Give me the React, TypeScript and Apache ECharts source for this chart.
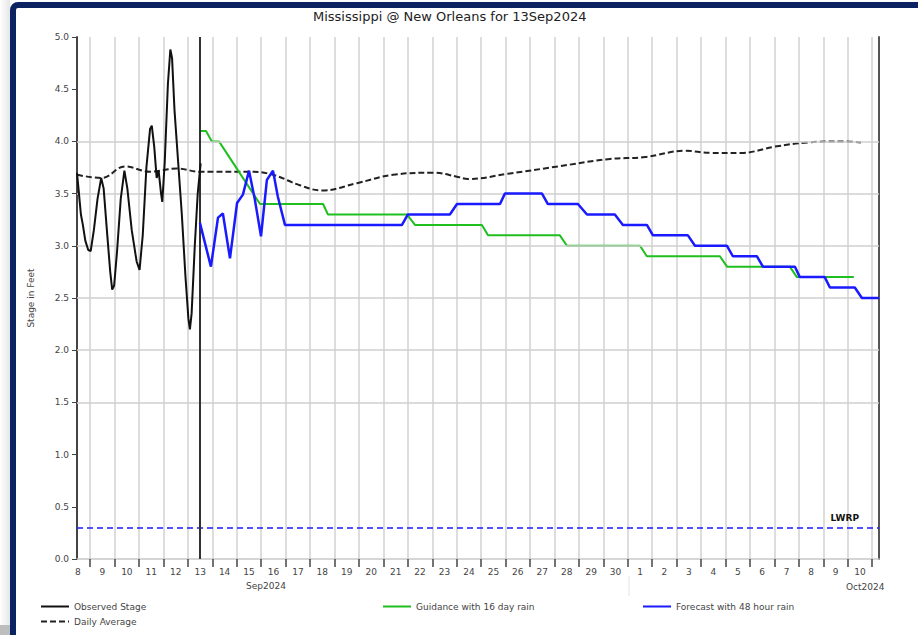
import React, { useEffect, useRef } from "react";
import * as echarts from "echarts";

const FONT = "DejaVu Sans";

// x is measured in days from 1 Sep 2024 00:00 (1 Oct = 31)
const xStart = 8.46;
const xEnd = 41.28;
const nowTime = 13.47;

const dayBoundaries = [9, 10, 11, 12, 13, 14, 15, 16, 17, 18, 19, 20, 21, 22, 23, 24, 25, 26, 27, 28, 29, 30, 31, 32, 33, 34, 35, 36, 37, 38, 39, 40, 41];
const dayLabelPositions = [8.5, 9.5, 10.5, 11.5, 12.5, 13.5, 14.5, 15.5, 16.5, 17.5, 18.5, 19.5, 20.5, 21.5, 22.5, 23.5, 24.5, 25.5, 26.5, 27.5, 28.5, 29.5, 30.5, 31.5, 32.5, 33.5, 34.5, 35.5, 36.5, 37.5, 38.5, 39.5, 40.5];
const dayLabels = ["8", "9", "10", "11", "12", "13", "14", "15", "16", "17", "18", "19", "20", "21", "22", "23", "24", "25", "26", "27", "28", "29", "30", "1", "2", "3", "4", "5", "6", "7", "8", "9", "10"];

const gridStages = [1.5, 2.0, 2.5, 3.0, 3.5, 4.0];
const lwrpStage = 0.3;

const observedDays = [8.46, 8.52, 8.62, 8.7, 8.8, 8.92, 9.02, 9.15, 9.3, 9.45, 9.55, 9.7, 9.82, 9.9, 9.98, 10.1, 10.25, 10.4, 10.52, 10.7, 10.9, 11.02, 11.15, 11.3, 11.45, 11.52, 11.62, 11.72, 11.8, 11.9, 11.95, 12.05, 12.18, 12.28, 12.35, 12.45, 12.6, 12.75, 12.9, 13.02, 13.08, 13.15, 13.28, 13.4, 13.52];
const observedStage = [3.7, 3.55, 3.3, 3.2, 3.05, 2.96, 2.95, 3.15, 3.45, 3.65, 3.55, 3.1, 2.75, 2.58, 2.62, 2.95, 3.45, 3.72, 3.55, 3.15, 2.85, 2.77, 3.1, 3.75, 4.12, 4.15, 3.95, 3.65, 3.72, 3.5, 3.42, 3.8, 4.55, 4.88, 4.8, 4.3, 3.8, 3.3, 2.7, 2.3, 2.2, 2.35, 3.0, 3.5, 3.79];

const averageDays = [8.46, 9.47, 10.42, 11.45, 12.55, 13.49, 15.54, 16.48, 17.58, 18.48, 19.92, 21.39, 23.03, 24.05, 24.46, 26.1, 28.14, 30.19, 31.7, 33.34, 34.4, 35.63, 37.02, 38.37, 39.72, 40.54];
const averageStage = [3.68, 3.65, 3.76, 3.71, 3.74, 3.71, 3.71, 3.68, 3.58, 3.53, 3.6, 3.68, 3.7, 3.66, 3.64, 3.69, 3.76, 3.83, 3.85, 3.91, 3.89, 3.89, 3.95, 3.99, 4.0, 3.99];

const guidanceDays = [13.49, 13.74, 13.98, 14.27, 15.95, 18.53, 18.73, 21.96, 22.29, 25.03, 25.28, 28.22, 28.51, 31.5, 31.78, 34.77, 35.06, 37.63, 37.92, 40.25];
const guidanceStage = [4.1, 4.1, 4.0, 4.0, 3.4, 3.4, 3.3, 3.3, 3.2, 3.2, 3.1, 3.1, 3.0, 3.0, 2.9, 2.9, 2.8, 2.8, 2.7, 2.7];

const forecastDays = [13.49, 13.94, 14.23, 14.43, 14.72, 15.01, 15.25, 15.5, 15.74, 15.99, 16.23, 16.48, 16.68, 16.97, 21.76, 22.0, 23.72, 24.01, 25.77, 25.97, 27.49, 27.73, 28.96, 29.33, 30.47, 30.8, 31.78, 32.03, 33.46, 33.75, 35.06, 35.3, 36.28, 36.53, 37.84, 38.04, 39.06, 39.27, 40.29, 40.58, 41.28];
const forecastStage = [3.22, 2.8, 3.27, 3.31, 2.88, 3.41, 3.49, 3.72, 3.44, 3.09, 3.63, 3.72, 3.47, 3.2, 3.2, 3.3, 3.3, 3.4, 3.4, 3.5, 3.5, 3.4, 3.4, 3.3, 3.3, 3.2, 3.2, 3.1, 3.1, 3.0, 3.0, 2.9, 2.9, 2.8, 2.8, 2.7, 2.7, 2.6, 2.6, 2.5, 2.5];

const pairs = (xs: number[], ys: number[]) => xs.map((x, i) => [x, ys[i]]);

const legendText = { fontSize: 9, color: "#444", fontFamily: FONT };
const legendBase = {
  itemWidth: 28,
  itemHeight: 10,
  selectedMode: false,
  textStyle: legendText,
  itemStyle: { opacity: 0 },
};

export default function App() {
  const ref = useRef<HTMLDivElement>(null);

  useEffect(() => {
    if (!ref.current) return;
    const chart = echarts.init(ref.current, null, { renderer: "svg" });
    chart.setOption({
      animation: false,
      backgroundColor: "transparent",
      textStyle: { fontFamily: FONT },
      title: {
        text: "Mississippi @ New Orleans for 13Sep2024",
        left: 308,
        top: 5,
        textStyle: { fontSize: 13, fontWeight: "normal", color: "#222", fontFamily: FONT },
      },
      grid: { left: 77, right: 39, top: 37, bottom: 76 },
      legend: [
        { ...legendBase, left: 35, top: 597, data: ["Observed Stage"] },
        { ...legendBase, left: 35, top: 612, data: ["Daily Average"] },
        { ...legendBase, left: 377, top: 597, data: ["Guidance with 16 day rain"] },
        { ...legendBase, left: 637, top: 597, data: ["Forecast with 48 hour rain"] },
      ],
      xAxis: {
        type: "value",
        min: xStart,
        max: xEnd,
        axisLine: { show: true, lineStyle: { color: "#c8c8c8", width: 1.5 } },
        axisTick: { show: true, customValues: dayBoundaries, length: 8, lineStyle: { color: "#444", width: 1.5 } },
        axisLabel: {
          customValues: dayLabelPositions,
          fontSize: 9,
          color: "#444",
          margin: 8,
          formatter: (v: number) => dayLabels[Math.round(v - 8.5)] ?? "",
        },
        splitLine: { show: true, lineStyle: { color: "#d2d2d2", width: 1.5 } },
      },
      yAxis: [
        {
          type: "value",
          min: 0,
          max: 5,
          interval: 0.5,
          name: "Stage in Feet",
          nameLocation: "middle",
          nameGap: 42,
          nameTextStyle: { fontSize: 9, color: "#444", fontFamily: FONT },
          axisLine: { show: true, lineStyle: { color: "#444", width: 2 } },
          axisTick: { show: true, length: 5, lineStyle: { color: "#444" } },
          axisLabel: { fontSize: 9, color: "#444", margin: 8, formatter: (v: number) => v.toFixed(1) },
          splitLine: { show: false },
        },
        {
          type: "value",
          min: 0,
          max: 5,
          position: "right",
          axisLine: { show: true, lineStyle: { color: "#555", width: 2 } },
          axisTick: { show: false },
          axisLabel: { show: false },
          splitLine: { show: false },
        },
      ],
      series: [
        {
          name: "grid",
          type: "line",
          data: [],
          silent: true,
          z: 1,
          markLine: {
            silent: true,
            symbol: "none",
            label: { show: false },
            lineStyle: { color: "#cfcfcf", width: 1.5, type: "solid" },
            data: gridStages.map((s) => ({ yAxis: s })),
          },
        },
        {
          name: "Daily Average",
          type: "line",
          symbol: "none",
          smooth: 0.4,
          z: 3,
          lineStyle: { color: "#222", width: 2, type: [6, 3] },
          itemStyle: { color: "#222" },
          data: pairs(averageDays, averageStage),
        },
        {
          name: "Guidance with 16 day rain",
          type: "line",
          symbol: "none",
          z: 4,
          lineStyle: { color: "#1fbf1f", width: 2 },
          itemStyle: { color: "#1fbf1f" },
          data: pairs(guidanceDays, guidanceStage),
        },
        {
          name: "Forecast with 48 hour rain",
          type: "line",
          symbol: "none",
          z: 5,
          lineStyle: { color: "#1a1aff", width: 2.5 },
          itemStyle: { color: "#1a1aff" },
          data: pairs(forecastDays, forecastStage),
          markLine: {
            silent: true,
            symbol: "none",
            lineStyle: { color: "#1a1aff", width: 1.5, type: [6, 4] },
            label: {
              show: true,
              position: "insideEndTop",
              formatter: "LWRP",
              fontSize: 9,
              fontWeight: "bold",
              color: "#111",
              fontFamily: FONT,
              padding: [0, 15, 0, 0],
            },
            data: [{ yAxis: lwrpStage }],
          },
        },
        {
          name: "Observed Stage",
          type: "line",
          symbol: "none",
          z: 6,
          lineStyle: { color: "#111", width: 2 },
          itemStyle: { color: "#111" },
          data: pairs(observedDays, observedStage),
          markLine: {
            silent: true,
            symbol: "none",
            label: { show: false },
            lineStyle: { color: "#333", width: 2, type: "solid" },
            data: [{ xAxis: nowTime }],
          },
        },
      ],
      graphic: [
        { type: "text", left: 246, top: 581, style: { text: "Sep2024", fontSize: 9, fill: "#444", fontFamily: FONT } },
        { type: "text", left: 846, top: 582, style: { text: "Oct2024", fontSize: 9, fill: "#444", fontFamily: FONT } },
        { type: "line", shape: { x1: 629, y1: 576, x2: 629, y2: 596 }, style: { stroke: "#e2e2e2", lineWidth: 1 } },
      ],
    });
    return () => chart.dispose();
  }, []);

  return (
    <div style={{ position: "fixed", left: 0, top: 0, width: 918, height: 635, background: "#fff", overflow: "hidden" }}>
      <div style={{ position: "absolute", left: 0, top: 0, width: 10, height: 635, background: "linear-gradient(to right, #ffffff, #e6e6e6)" }} />
      <div style={{ position: "absolute", left: 0, top: 625, width: 10, height: 10, background: "#bdbdbd" }} />
      <div
        style={{
          position: "absolute",
          left: 10,
          top: 2,
          width: 930,
          height: 660,
          border: "6px solid #0b2461",
          borderRadius: 8,
          boxSizing: "border-box",
          background: "#fff",
        }}
      />
      <div ref={ref} style={{ position: "absolute", left: 0, top: 0, width: 918, height: 635 }} />
    </div>
  );
}
